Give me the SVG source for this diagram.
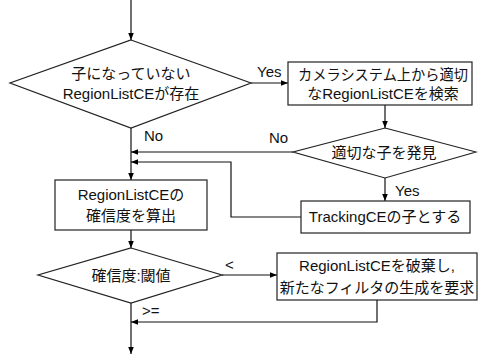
<svg xmlns="http://www.w3.org/2000/svg" width="478" height="355" viewBox="0 0 478 355">
<defs>
<marker id="ah" viewBox="0 0 10 10" refX="10" refY="5" markerWidth="7" markerHeight="7" orient="auto" markerUnits="userSpaceOnUse">
<path d="M0,1 L10,5 L0,9 z" fill="#000"/>
</marker>
<style>
.s{fill:#fff;stroke:#222;stroke-width:1.2}
.c{fill:none;stroke:#111;stroke-width:1.2}
text{font-family:"Liberation Sans","Noto Sans CJK JP",sans-serif;font-size:15px;fill:#111}
.m{text-anchor:middle}
</style>
</defs>
<rect width="478" height="355" fill="#fff"/>
<g id="connectors">
<path class="c" d="M131,0 V40" marker-end="url(#ah)"/>
<path class="c" d="M251,83 H288" marker-end="url(#ah)"/>
<path class="c" d="M385,105 V128" marker-end="url(#ah)"/>
<path class="c" d="M385,178 V201" marker-end="url(#ah)"/>
<path class="c" d="M293,152 H131" marker-end="url(#ah)"/>
<path class="c" d="M301,217 H231 V162 H131" marker-end="url(#ah)"/>
<path class="c" d="M131,128 V180" marker-end="url(#ah)"/>
<path class="c" d="M131,230 V248" marker-end="url(#ah)"/>
<path class="c" d="M222,275 H277" marker-end="url(#ah)"/>
<path class="c" d="M377,300 V322 H131" marker-end="url(#ah)"/>
<path class="c" d="M131,303 V354" marker-end="url(#ah)"/>
<text x="257" y="77">Yes</text>
<text x="144" y="141">No</text>
<text x="269" y="143">No</text>
<text x="395" y="196">Yes</text>
<text x="225" y="270">&lt;</text>
<text x="142" y="316">&gt;=</text>
</g>
<g id="d1">
<polygon class="s" points="131,40 251,83 131,128 10,83"/>
<text class="m" x="131" y="79">子になっていない</text>
<text class="m" x="131" y="99">RegionListCEが存在</text>
</g>
<g id="b1">
<rect class="s" x="288" y="62" width="184" height="43"/>
<text class="m" x="383" y="80" textLength="170" lengthAdjust="spacingAndGlyphs">カメラシステム上から適切</text>
<text class="m" x="383" y="99">なRegionListCEを検索</text>
</g>
<g id="d2">
<polygon class="s" points="385,128 476,152 385,178 293,152"/>
<text class="m" x="384" y="158">適切な子を発見</text>
</g>
<g id="b2">
<rect class="s" x="301" y="201" width="169" height="32"/>
<text class="m" x="385" y="222">TrackingCEの子とする</text>
</g>
<g id="b3">
<rect class="s" x="55" y="180" width="152" height="50"/>
<text class="m" x="131" y="200">RegionListCEの</text>
<text class="m" x="131" y="221">確信度を算出</text>
</g>
<g id="d3">
<polygon class="s" points="131,248 222,275 131,303 38,275"/>
<text class="m" x="131" y="281">確信度:閾値</text>
</g>
<g id="b4">
<rect class="s" x="277" y="253" width="200" height="47"/>
<text class="m" x="377" y="271">RegionListCEを破棄し,</text>
<text class="m" x="377" y="293">新たなフィルタの生成を要求</text>
</g>
</svg>
